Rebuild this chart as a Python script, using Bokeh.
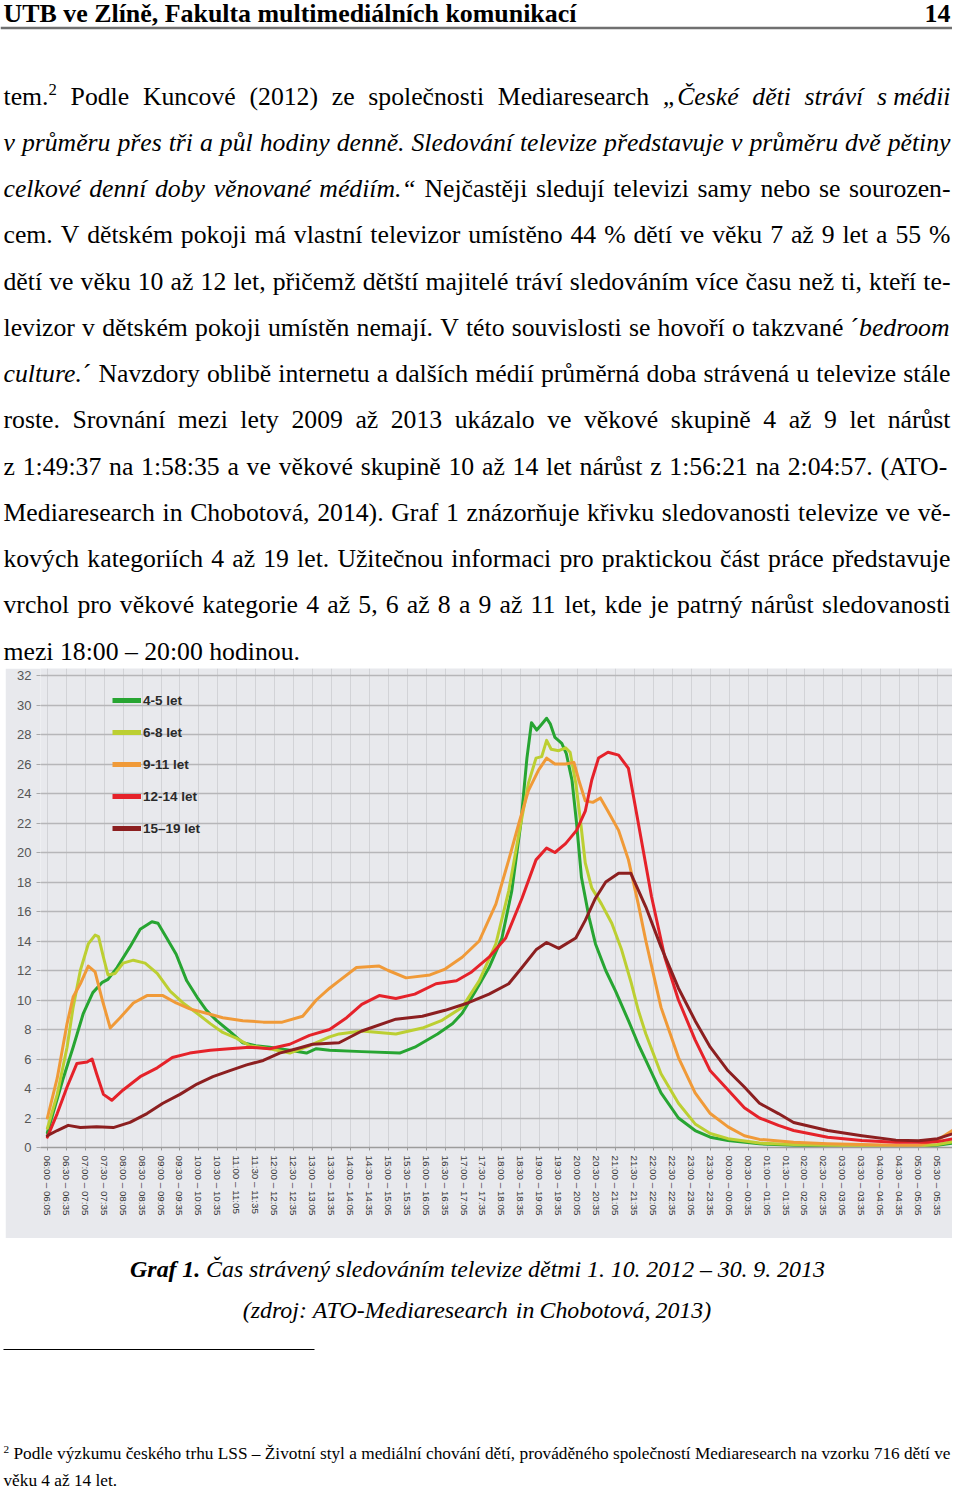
import unicodedata
from bokeh.plotting import figure
from bokeh.models import (ColumnDataSource, Range1d, FixedTicker, Legend, LegendItem,
                          Span, Spacer)
from bokeh.layouts import column, row
from bokeh.embed import file_html
from bokeh.resources import INLINE
from bokeh.core.properties import value

# ---------------------------------------------------------------- chart data
# time = hours after 06:00 (start of the 5-minute slot), value = share in %
SERIES_NAMES = ["4-5 let", "6-8 let", "9-11 let", "12-14 let", "15\u201319 let"]
SERIES_COLORS = ["#27a532", "#bccf32", "#f09a38", "#e5222a", "#8c1f20"]

T_45 = [0.0, 0.42, 0.68, 0.95, 1.2, 1.45, 1.6, 1.84, 2.18, 2.45, 2.76, 2.92, 3.15, 3.4, 3.68,
        3.95, 4.2, 4.47, 4.8, 5.16, 5.5, 5.87, 6.4, 6.84, 7.1, 7.45, 8.3, 9.3, 9.7, 10.3, 10.7,
        10.95, 11.3, 11.66, 12.0, 12.26, 12.5, 12.66, 12.78, 12.92, 13.05, 13.18, 13.28, 13.4,
        13.58, 13.7, 13.85, 13.97, 14.1, 14.3, 14.47, 14.74, 15.0, 15.34, 15.6, 15.8, 16.2,
        16.66, 17.1, 17.5, 17.97, 18.8, 19.7, 20.6, 21.5, 22.4, 23.0, 23.5, 23.92]
V_45 = [1.0, 4.7, 6.8, 9.1, 10.5, 11.2, 11.4, 12.2, 13.6, 14.8, 15.3, 15.2, 14.2, 13.1, 11.3,
        10.2, 9.3, 8.6, 7.9, 7.1, 6.9, 6.8, 6.6, 6.4, 6.7, 6.6, 6.5, 6.4, 6.8, 7.7, 8.4,
        9.1, 10.6, 12.2, 14.2, 17.4, 22.0, 26.4, 28.8, 28.3, 28.7, 29.1, 28.7, 27.8,
        27.4, 26.7, 24.9, 22.0, 18.3, 15.6, 13.8, 12.0, 10.6, 8.6, 7.0, 5.9, 3.7,
        2.0, 1.15, 0.7, 0.47, 0.25, 0.15, 0.12, 0.1, 0.1, 0.1, 0.15, 0.3]

T_68 = [0.0, 0.26, 0.52, 0.68, 0.87, 1.08, 1.26, 1.35, 1.48, 1.6, 1.79, 2.0, 2.27, 2.58, 2.9,
        3.24, 3.58, 3.95, 4.3, 4.63, 5.0, 5.34, 5.87, 6.4, 6.92, 7.45, 7.7, 8.3, 9.2, 9.9, 10.4,
        10.95, 11.4, 11.84, 12.18, 12.45, 12.7, 12.9, 13.05, 13.18, 13.3, 13.5, 13.68, 13.8,
        13.95, 14.08, 14.2, 14.37, 14.63, 14.9, 15.16, 15.42, 15.6, 15.8, 16.2, 16.66, 17.1,
        17.5, 17.97, 18.8, 19.7, 20.6, 21.5, 22.4, 23.0, 23.5, 23.92]
V_68 = [1.3, 3.6, 6.8, 9.5, 12.0, 13.8, 14.4, 14.3, 12.9, 11.7, 11.8, 12.5, 12.7, 12.5, 11.8,
        10.6, 9.8, 9.1, 8.4, 7.8, 7.4, 6.9, 6.7, 6.4, 6.9, 7.5, 7.7, 7.9, 7.7, 8.1, 8.6,
        9.5, 11.3, 13.8, 17.4, 21.3, 24.7, 26.4, 26.5, 27.6, 27.0, 26.9, 27.1, 26.8,
        24.7, 22.0, 19.3, 17.6, 16.5, 15.2, 13.4, 11.1, 9.3, 7.7, 5.0, 3.0, 1.6,
        0.95, 0.6, 0.3, 0.2, 0.15, 0.12, 0.1, 0.1, 0.2, 0.4]

T_911 = [0.0, 0.26, 0.52, 0.68, 0.87, 1.08, 1.26, 1.45, 1.66, 1.92, 2.27, 2.63, 3.05, 3.4, 3.76,
         4.2, 4.63, 5.16, 5.7, 6.2, 6.74, 7.1, 7.45, 7.7, 8.16, 8.76, 9.0, 9.47, 10.1, 10.5,
         10.95, 11.4, 11.84, 12.18, 12.45, 12.7, 12.97, 13.18, 13.4, 13.68, 13.9, 14.03, 14.2,
         14.4, 14.6, 14.8, 15.08, 15.34, 15.6, 15.8, 16.2, 16.66, 17.1, 17.5, 17.97, 18.4,
         18.8, 19.7, 20.6, 21.5, 22.4, 23.0, 23.5, 23.92]
V_911 = [2.0, 4.7, 8.4, 10.2, 11.1, 12.3, 11.9, 10.0, 8.1, 8.8, 9.8, 10.3, 10.3, 9.8, 9.4,
         9.1, 8.8, 8.6, 8.5, 8.5, 8.9, 10.0, 10.8, 11.3, 12.2, 12.3, 12.0, 11.5, 11.7, 12.1,
         12.9, 14.0, 16.5, 19.5, 22.0, 24.2, 25.6, 26.4, 26.0, 26.0, 26.1, 24.9, 23.5,
         23.4, 23.7, 22.8, 21.5, 19.5, 16.5, 14.0, 9.5, 6.1, 3.7, 2.3, 1.4, 0.8,
         0.55, 0.35, 0.25, 0.2, 0.15, 0.15, 0.5, 1.2]

T_1214 = [0.0, 0.26, 0.52, 0.78, 1.05, 1.18, 1.3, 1.48, 1.7, 2.0, 2.45, 2.9, 3.3, 3.76, 4.3,
          4.8, 5.34, 5.87, 6.4, 6.92, 7.45, 7.9, 8.3, 8.76, 9.2, 9.7, 10.26, 10.8, 11.2, 11.66,
          12.1, 12.53, 12.9, 13.18, 13.4, 13.68, 13.97, 14.2, 14.37, 14.55, 14.8, 15.08, 15.34,
          15.6, 15.95, 16.3, 16.66, 17.1, 17.5, 17.97, 18.4, 18.8, 19.3, 19.7, 20.6, 21.5,
          22.4, 23.2, 23.5, 23.92]
V_1214 = [0.7, 2.3, 4.1, 5.7, 5.8, 6.0, 5.0, 3.6, 3.2, 3.9, 4.8, 5.4, 6.1, 6.4, 6.6,
          6.7, 6.8, 6.7, 7.0, 7.6, 8.0, 8.8, 9.7, 10.3, 10.1, 10.4, 11.1, 11.3, 11.9, 12.9,
          14.2, 16.9, 19.5, 20.3, 20.0, 20.6, 21.5, 22.8, 24.9, 26.4, 26.8, 26.6, 25.7,
          22.0, 17.0, 12.9, 10.0, 7.3, 5.2, 3.9, 2.7, 2.0, 1.5, 1.15, 0.7, 0.47,
          0.35, 0.35, 0.4, 0.6]

T_1519 = [0.0, 0.26, 0.55, 0.87, 1.3, 1.74, 2.18, 2.63, 3.05, 3.5, 3.95, 4.37, 4.8, 5.26, 5.7,
          6.13, 6.58, 7.0, 7.7, 8.3, 9.2, 9.9, 10.5, 11.1, 11.66, 12.18, 12.53, 12.9, 13.18,
          13.5, 13.95, 14.2, 14.47, 14.74, 15.08, 15.4, 15.8, 16.2, 16.66, 17.1, 17.5, 17.97,
          18.4, 18.8, 19.3, 19.7, 20.6, 21.5, 22.4, 23.0, 23.5, 23.92]
V_1519 = [0.8, 1.15, 1.5, 1.35, 1.4, 1.35, 1.7, 2.3, 3.0, 3.6, 4.3, 4.8, 5.2, 5.6, 5.9,
          6.4, 6.7, 7.0, 7.1, 7.9, 8.7, 8.9, 9.3, 9.8, 10.4, 11.1, 12.2, 13.4, 13.9,
          13.5, 14.2, 15.4, 16.9, 18.0, 18.6, 18.6, 16.3, 13.6, 10.8, 8.6, 6.8, 5.2,
          4.1, 3.0, 2.3, 1.7, 1.15, 0.8, 0.5, 0.45, 0.6, 0.95]

SERIES_T = [T_45, T_68, T_911, T_1214, T_1519]
SERIES_V = [V_45, V_68, V_911, V_1214, V_1519]

TICK_POS = [0.0, 0.5, 1.0, 1.5, 2.0, 2.5, 3.0, 3.5, 4.0, 4.5, 5.0, 5.5, 6.0, 6.5, 7.0, 7.5,
            8.0, 8.5, 9.0, 9.5, 10.0, 10.5, 11.0, 11.5, 12.0, 12.5, 13.0, 13.5, 14.0, 14.5,
            15.0, 15.5, 16.0, 16.5, 17.0, 17.5, 18.0, 18.5, 19.0, 19.5, 20.0, 20.5, 21.0, 21.5,
            22.0, 22.5, 23.0, 23.5]
TICK_LABELS = [
    "06:00 \u2013 06:05", "06:30 \u2013 06:35", "07:00 \u2013 07:05", "07:30 \u2013 07:35",
    "08:00 \u2013 08:05", "08:30 \u2013 08:35", "09:00 \u2013 09:05", "09:30 \u2013 09:35",
    "10:00 \u2013 10:05", "10:30 \u2013 10:35", "11:00 \u2013 11:05", "11:30 \u2013 11:35",
    "12:00 \u2013 12:05", "12:30 \u2013 12:35", "13:00 \u2013 13:05", "13:30 \u2013 13:35",
    "14:00 \u2013 14:05", "14:30 \u2013 14:35", "15:00 \u2013 15:05", "15:30 \u2013 15:35",
    "16:00 \u2013 16:05", "16:30 \u2013 16:35", "17:00 \u2013 17:05", "17:30 \u2013 17:35",
    "18:00 \u2013 18:05", "18:30 \u2013 18:35", "19:00 \u2013 19:05", "19:30 \u2013 19:35",
    "20:00 \u2013 20:05", "20:30 \u2013 20:35", "21:00 \u2013 21:05", "21:30 \u2013 21:35",
    "22:00 \u2013 22:05", "22:30 \u2013 22:35", "23:00 \u2013 23:05", "23:30 \u2013 23:35",
    "00:00 \u2013 00:05", "00:30 \u2013 00:35", "01:00 \u2013 01:05", "01:30 \u2013 01:35",
    "02:00 \u2013 02:05", "02:30 \u2013 02:35", "03:00 \u2013 03:05", "03:30 \u2013 03:35",
    "04:00 \u2013 04:05", "04:30 \u2013 04:35", "05:00 \u2013 05:05", "05:30 \u2013 05:35"]
Y_TICKS = [0, 2, 4, 6, 8, 10, 12, 14, 16, 18, 20, 22, 24, 26, 28, 30, 32]

# ---------------------------------------------------------------- page texts
HEADER_LEFT = "UTB ve Zlíně, Fakulta multimediálních komunikací"
HEADER_RIGHT = "14"
BODY_LINES = [
    [("tem.", "r"), ("2", "sup"), (" Podle Kuncové (2012) ze společnosti Mediaresearch ", "r"),
     ("„České děti stráví s\u00a0médii", "i")],
    [("v průměru přes tři a půl hodiny denně. Sledování televize představuje v průměru dvě pětiny", "i")],
    [("celkové denní doby věnované médiím.“", "i"),
     (" Nejčastěji sledují televizi samy nebo se sourozen-", "r")],
    [("cem. V dětském pokoji má vlastní televizor umístěno 44 % dětí ve věku 7 až 9 let a 55 %", "r")],
    [("dětí ve věku 10 až 12 let, přičemž dětští majitelé tráví sledováním více času než ti, kteří te-", "r")],
    [("levizor v dětském pokoji umístěn nemají. V této souvislosti se hovoří o takzvané ", "r"),
     ("´", "r"), ("bedroom", "i")],
    [("culture.", "i"), ("´", "r"),
     (" Navzdory oblibě internetu a dalších médií průměrná doba strávená u televize stále", "r")],
    [("roste. Srovnání mezi lety 2009 až 2013 ukázalo ve věkové skupině 4 až 9 let nárůst", "r")],
    [("z 1:49:37 na 1:58:35 a ve věkové skupině 10 až 14 let nárůst z 1:56:21 na 2:04:57. (ATO-", "r")],
    [("Mediaresearch in Chobotová, 2014). Graf 1 znázorňuje křivku sledovanosti televize ve vě-", "r")],
    [("kových kategoriích 4 až 19 let. Užitečnou informaci pro praktickou část práce představuje", "r")],
    [("vrchol pro věkové kategorie 4 až 5, 6 až 8 a 9 až 11 let, kde je patrný nárůst sledovanosti", "r")],
    [("mezi 18:00 – 20:00 hodinou.", "r")],
]
CAPTION_1 = [("Graf 1.", "bi"), (" Čas strávený sledováním televize dětmi 1. 10. 2012 – 30. 9. 2013", "i")]
CAPTION_2 = [("(zdroj: ATO-Mediaresearch in Chobotová, 2013)", "i")]
FOOT_1 = [("2", "sup"), (" Podle výzkumu českého trhu LSS – Životní styl a mediální chování dětí, "
                         "prováděného společností Mediaresearch na vzorku 716 dětí ve", "r")]
FOOT_2 = [("věku 4 až 14 let.", "r")]

# ---------------------------------------------------------------- geometry helpers
PAGE_W, PAGE_H = 952, 1491           # layout size in screen px
REF_W = 955.0                        # reference width mapped onto PAGE_W
SX = PAGE_W / REF_W                  # horizontal scale; vertical scale is 1
SERIF = "Liberation Serif"
SANS = "Liberation Sans"
BG = "#e8e9ed"
MID = 0.34                            # em-box middle above the baseline

ROMAN = {' ': 250, '\u00a0': 250, 'a': 444, 'b': 500, 'c': 444, 'd': 500, 'e': 444, 'f': 333,
         'g': 500, 'h': 500, 'i': 278, 'j': 278, 'k': 500, 'l': 278, 'm': 778, 'n': 500,
         'o': 500, 'p': 500, 'q': 500, 'r': 333, 's': 389, 't': 278, 'u': 500, 'v': 500,
         'w': 722, 'x': 500, 'y': 500, 'z': 444, 'A': 722, 'B': 667, 'C': 667, 'D': 722,
         'E': 611, 'F': 556, 'G': 722, 'H': 722, 'I': 333, 'J': 389, 'K': 722, 'L': 611,
         'M': 889, 'N': 722, 'O': 722, 'P': 556, 'Q': 722, 'R': 667, 'S': 556, 'T': 611,
         'U': 722, 'V': 722, 'W': 944, 'X': 722, 'Y': 722, 'Z': 611, '.': 250, ',': 250,
         ':': 278, ';': 278, '-': 333, '\u2013': 500, '(': 333, ')': 333, '%': 833,
         '„': 444, '“': 444, '´': 333}
ITALIC = {' ': 250, '\u00a0': 250, 'a': 500, 'b': 500, 'c': 444, 'd': 500, 'e': 444, 'f': 278,
          'g': 500, 'h': 500, 'i': 278, 'j': 278, 'k': 444, 'l': 278, 'm': 722, 'n': 500,
          'o': 500, 'p': 500, 'q': 500, 'r': 389, 's': 389, 't': 278, 'u': 500, 'v': 444,
          'w': 667, 'x': 444, 'y': 444, 'z': 389, 'A': 611, 'B': 611, 'C': 667, 'D': 722,
          'E': 611, 'F': 611, 'G': 722, 'H': 722, 'I': 333, 'J': 444, 'K': 667, 'L': 556,
          'M': 833, 'N': 667, 'O': 722, 'P': 611, 'Q': 722, 'R': 611, 'S': 500, 'T': 556,
          'U': 722, 'V': 611, 'W': 833, 'X': 611, 'Y': 556, 'Z': 556, '.': 250, ',': 250,
          ':': 333, ';': 333, '-': 333, '\u2013': 500, '(': 333, ')': 333, '%': 833,
          '„': 556, '“': 556, '´': 333}
BOLDITALIC = dict(ITALIC)
BOLDITALIC.update({'G': 722, 'r': 389, 'a': 500, 'f': 333})
TABLES = {"r": ROMAN, "i": ITALIC, "bi": BOLDITALIC, "sup": ROMAN}
STYLE_CSS = {"r": "normal", "i": "italic", "bi": "bold italic", "sup": "normal"}
SUP_SCALE = 0.65


def char_w(ch, table):
    if ch.isdigit():
        return 500
    if ch in table:
        return table[ch]
    base = unicodedata.normalize("NFD", ch)[0]
    return table.get(base, 500)


def piece_size(style, size):
    return size * SUP_SCALE if style == "sup" else size


def piece_w(text, style, size):
    t = TABLES[style]
    return sum(char_w(c, t) for c in text) / 1000.0 * piece_size(style, size)


def build_words(segments):
    words, glue = [], False
    for text, style in segments:
        parts = text.split(" ")
        for k, part in enumerate(parts):
            if k > 0:
                glue = False
            if part == "":
                continue
            if glue and words:
                words[-1].append((part, style))
            else:
                words.append([(part, style)])
            glue = True
        glue = not text.endswith(" ")
    return words


def layout_line(store, segments, x0, x1, baseline, size, mode):
    words = build_words(segments)
    widths = [sum(piece_w(t, st, size) for t, st in w) for w in words]
    space = 0.25 * size
    if mode == "justify" and len(words) > 1:
        gap = (x1 - x0 - sum(widths)) / (len(words) - 1)
    else:
        gap = space
    x = x0
    for w, wd in zip(words, widths):
        cx = x
        for t, st in w:
            ps = piece_size(st, size)
            rise = size * 0.36 if st == "sup" else 0.0
            d = store.setdefault(st, {"x": [], "y": [], "text": [], "fs": []})
            d["x"].append(cx)
            d["y"].append(baseline - rise - MID * ps)
            d["text"].append(t)
            d["fs"].append("%.2fpx" % (ps * SX))
            cx += piece_w(t, st, size)
        x += wd + gap


def draw_store(p, store):
    for st, d in store.items():
        p.text(x="x", y="y", text="text", source=ColumnDataSource(d),
               text_font=value(SERIF), text_font_size="fs",
               text_font_style=value(STYLE_CSS[st]), text_color="#000000",
               text_align="left", text_baseline="middle")


def page_fig(y0, h):
    y1 = y0 + h
    p = figure(width=PAGE_W, height=h, x_range=Range1d(0, REF_W), y_range=Range1d(y1, y0),
               output_backend="svg", toolbar_location=None, min_border=0,
               x_axis_location=None, y_axis_location=None,
               background_fill_color="white", border_fill_color="white",
               outline_line_color=None)
    p.grid.visible = False
    return p, y1


H_TOP, H_CHART = 668, 570
H_BOT = PAGE_H - H_TOP - H_CHART

# ---------------------------------------------------------------- top: header + paragraph
top, top_end = page_fig(0.0, H_TOP)
top.text(x=[3], y=[22 - MID * 26], text=[HEADER_LEFT], text_font=value(SERIF),
         text_font_size="%.2fpx" % (26 * SX), text_font_style="bold",
         text_color="#000000", text_baseline="middle", text_align="left")
top.text(x=[953], y=[22 - MID * 26], text=[HEADER_RIGHT], text_font=value(SERIF),
         text_font_size="%.2fpx" % (26 * SX), text_font_style="bold",
         text_color="#000000", text_baseline="middle", text_align="right")
top.add_layout(Span(location=27.5, dimension="width", line_color="#707070", line_width=2.5))

store_top = {}
BODY_SIZE = 25.8
for i, segs in enumerate(BODY_LINES):
    base = 104.3 + i * 46.25
    mode = "left" if i == len(BODY_LINES) - 1 else "justify"
    layout_line(store_top, segs, 3, 953, base, BODY_SIZE, mode)
draw_store(top, store_top)

# ---------------------------------------------------------------- chart
CH_X0 = 5.0                               # reference x of the chart's left edge
CH_W = int(round((REF_W - CH_X0) * SX))
MB_LEFT = 35
PX_PER_HOUR = 38.0                        # reference px per hour
X0_REF = 47.0                             # reference x of 06:00
PX_PER_UNIT = 14.75                       # reference px per percentage point
ZERO_REF = 1147.0                         # reference y of 0 %
chart_bottom = top_end + H_CHART
MB_BOTTOM = int(round(chart_bottom - ZERO_REF))
frame_left_ref = CH_X0 + MB_LEFT / SX

chart = figure(width=CH_W, height=H_CHART,
               x_range=Range1d((frame_left_ref - X0_REF) / PX_PER_HOUR,
                               (REF_W - X0_REF) / PX_PER_HOUR),
               y_range=Range1d(0, (ZERO_REF - top_end) / PX_PER_UNIT),
               output_backend="svg", toolbar_location=None,
               min_border_left=MB_LEFT, min_border_right=0, min_border_top=0,
               min_border_bottom=MB_BOTTOM,
               background_fill_color=BG, border_fill_color=BG, outline_line_color=None)

xticker = FixedTicker(ticks=TICK_POS)
yticker = FixedTicker(ticks=Y_TICKS)
xa = chart.xaxis[0]
xa.ticker = xticker
xa.major_label_overrides = {(int(t) if t == int(t) else t): lab
                            for t, lab in zip(TICK_POS, TICK_LABELS)}
xa.major_label_orientation = "vertical"
xa.major_label_text_font = SANS
xa.major_label_text_font_size = "9.8px"
xa.major_label_text_color = "#333333"
xa.major_label_standoff = 5
xa.axis_line_color = "#9c9c9c"
xa.axis_line_width = 1.5
xa.major_tick_line_color = "#9c9c9c"
xa.major_tick_out = 3
xa.major_tick_in = 0
xa.minor_tick_line_color = None

ya = chart.yaxis[0]
ya.ticker = yticker
ya.major_label_text_font = SANS
ya.major_label_text_font_size = "13px"
ya.major_label_text_color = "#555555"
ya.major_label_standoff = 5
ya.axis_line_color = None
ya.major_tick_line_color = "#a8a8a8"
ya.major_tick_out = 4
ya.major_tick_in = 0
ya.minor_tick_line_color = None

chart.xgrid.ticker = xticker
chart.ygrid.ticker = yticker
chart.xgrid.grid_line_color = "#d2d3d7"
chart.xgrid.grid_line_width = 1
chart.ygrid.grid_line_color = "#b6b6b9"
chart.ygrid.grid_line_width = 1.6

for t, v, c in zip(SERIES_T, SERIES_V, SERIES_COLORS):
    chart.line(x=t, y=v, line_color=c, line_width=3, line_join="round", line_cap="round")

items = []
for name, c in zip(SERIES_NAMES, SERIES_COLORS):
    r = chart.line(x=[float("nan")], y=[float("nan")], line_color=c, line_width=5)
    items.append(LegendItem(label=name, renderers=[r]))
frame_h = H_CHART - MB_BOTTOM
first_item_center = 700.0 - top_end
legend_h = 5 * 20 + 4 * 12
legend = Legend(items=items,
                location=(int(round((112.0 - frame_left_ref) * SX)),
                          int(round(frame_h - (first_item_center - 10) - legend_h))),
                orientation="vertical",
                glyph_width=29, glyph_height=20, label_height=20, spacing=12,
                padding=0, margin=0, label_standoff=2,
                background_fill_alpha=0, border_line_color=None,
                label_text_font=SANS, label_text_font_size="13.5px",
                label_text_font_style="bold", label_text_color="#2a2a2a")
chart.add_layout(legend)

# ---------------------------------------------------------------- bottom: caption + footnote
bottom, _ = page_fig(chart_bottom, H_BOT)
store_bot = {}
layout_line(store_bot, CAPTION_1, 130, 827, 1277, 24, "justify")
layout_line(store_bot, CAPTION_2, 243, 713, 1318, 24, "justify")
layout_line(store_bot, FOOT_1, 3, 953, 1459, 17.3, "justify")
layout_line(store_bot, FOOT_2, 3, 953, 1486, 17.3, "left")
draw_store(bottom, store_bot)
bottom.segment(x0=[3], y0=[1349], x1=[315], y1=[1349], line_color="#000000", line_width=1)

layout = column(top, row(Spacer(width=PAGE_W - CH_W, height=H_CHART), chart), bottom)
open("out.html", "w").write(file_html(layout, INLINE))
